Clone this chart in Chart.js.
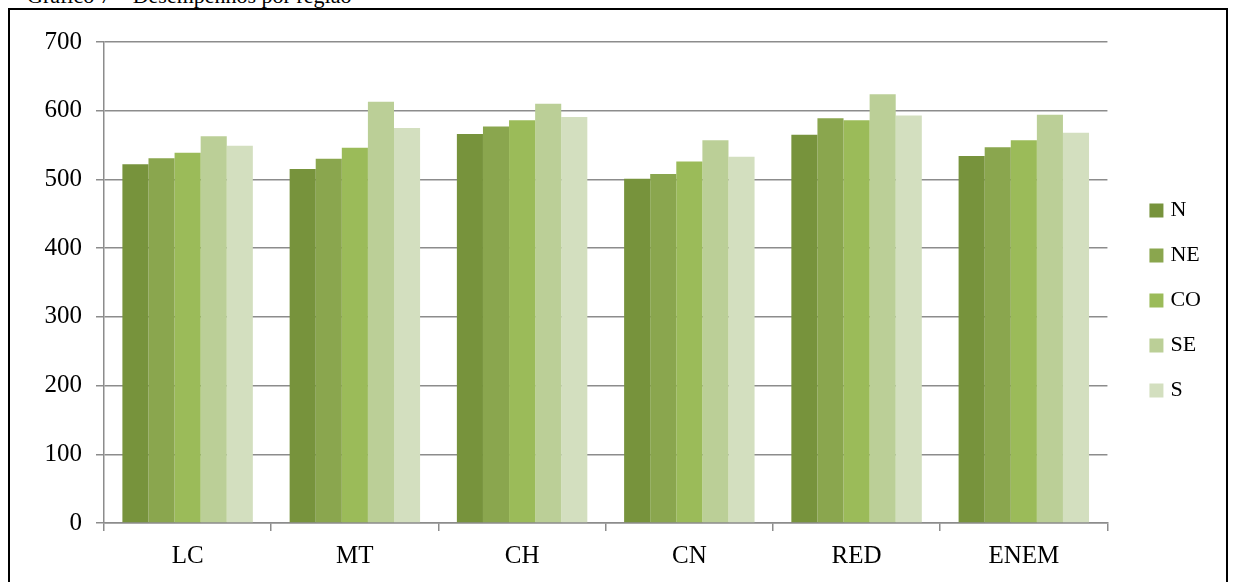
<!DOCTYPE html>
<html lang="pt">
<head>
<meta charset="utf-8">
<title>Desempenhos por região</title>
<script src="https://cdn.jsdelivr.net/npm/chart.js@4/dist/chart.umd.min.js"></script>
<style>
  html, body { margin: 0; padding: 0; background: #fff; overflow: hidden; }
  body { width: 1235px; height: 582px; position: relative; }
  #titulo {
    position: absolute; left: 27px; top: -15px;
    font: 22px "Liberation Serif", "Times New Roman", serif;
    line-height: 22px; color: #000; white-space: nowrap;
  }
  #moldura {
    position: absolute; left: 8px; top: 8px; width: 1220px; height: 600px;
    border: 2px solid #000; box-sizing: border-box;
  }
  #area { position: absolute; left: 10px; top: 10px; width: 1216px; height: 572px; }
</style>
</head>
<body>
<div id="titulo">Gráfico 7 – Desempenhos por região</div>
<div id="moldura"></div>
<div id="area"><canvas id="grafico" width="1216" height="572"></canvas></div>
<script>
// Provas do ENEM e médias por região
const provas = ['LC', 'MT', 'CH', 'CN', 'RED', 'ENEM'];
const regioes = ['N', 'NE', 'CO', 'SE', 'S'];

const notasN  = [522, 515, 566, 501, 565, 534];
const notasNE = [531, 530, 577, 508, 589, 547];
const notasCO = [539, 546, 586, 526, 586, 557];
const notasSE = [563, 613, 610, 557, 624, 594];
const notasS  = [549, 575, 591, 533, 593, 568];

const escalaY = [0, 100, 200, 300, 400, 500, 600, 700];

const cores = ['#77933C', '#8AA64E', '#9BBB59', '#BBCF97', '#D3DFBF'];
const series = [notasN, notasNE, notasCO, notasSE, notasS];

const fonte = '"Liberation Serif", "Times New Roman", serif';
const cinza = '#8c8c8c';

// Afasta a legenda do gráfico depois do layout
const deslocaLegenda = {
  id: 'deslocaLegenda',
  afterLayout(chart) {
    const lg = chart.legend;
    if (!lg) return;
    lg.left += 23; lg.right += 23;
    lg.top -= 11; lg.bottom -= 11;
  }
};

new Chart(document.getElementById('grafico'), {
  type: 'bar',
  data: {
    labels: provas,
    datasets: regioes.map((r, i) => ({
      label: r,
      data: series[i],
      backgroundColor: cores[i],
      borderWidth: 0,
      categoryPercentage: 0.78,
      barPercentage: 1.0
    }))
  },
  plugins: [deslocaLegenda],
  options: {
    responsive: false,
    animation: false,
    devicePixelRatio: 1,
    layout: { padding: { left: 10, top: 32, right: 38, bottom: 1 } },
    plugins: {
      tooltip: { enabled: false },
      legend: {
        position: 'right',
        labels: {
          color: '#000',
          font: { family: fonte, size: 22 },
          boxWidth: 6,
          boxHeight: 6,
          padding: 23,
          // quadrado de 14 px: preenchimento + contorno da mesma cor
          generateLabels: chart =>
            Chart.defaults.plugins.legend.labels.generateLabels(chart).map(l => ({
              ...l, lineWidth: 8, strokeStyle: l.fillStyle, lineJoin: 'miter'
            }))
        }
      }
    },
    scales: {
      x: {
        grid: {
          offset: true,
          drawOnChartArea: false,
          drawTicks: true,
          tickLength: 8,
          color: cinza,
          lineWidth: 1.5
        },
        border: { color: cinza, width: 1.5 },
        ticks: { color: '#000', font: { family: fonte, size: 25 }, padding: 10 }
      },
      y: {
        min: 0,
        max: 700,
        afterBuildTicks: s => { s.ticks = escalaY.map(v => ({ value: v })); },
        afterFit: s => { s.width = 84; },
        grid: { color: cinza, lineWidth: 1.5, tickLength: 8 },
        border: { color: cinza, width: 1.5 },
        ticks: { color: '#000', font: { family: fonte, size: 25 }, padding: 14 }
      }
    }
  }
});
</script>
</body>
</html>
